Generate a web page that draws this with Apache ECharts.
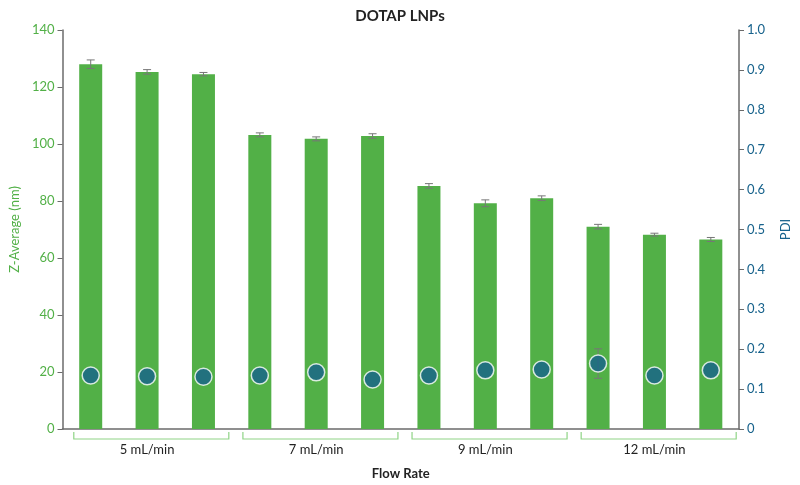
<!DOCTYPE html><html><head><meta charset="utf-8"><script src="https://cdn.jsdelivr.net/npm/echarts@6/dist/echarts.min.js"></script>
<style>body{margin:0}#c{width:800px;height:485px}</style></head><body><div id="c"></div><script>
const categories=['5a','5b','5c','7a','7b','7c','9a','9b','9c','12a','12b','12c'];
const groups=['5 mL/min','7 mL/min','9 mL/min','12 mL/min'];
const zavg=[128,125.3,124.5,103.2,101.8,102.8,85.3,79.2,81,71,68.2,66.5];
const zerr=[1.5,0.8,0.6,0.7,0.7,0.8,0.8,1.2,0.8,0.8,0.5,0.7];
const pdi=[0.134,0.132,0.131,0.134,0.142,0.124,0.134,0.147,0.149,0.164,0.134,0.147];
const pdiErr=[0,0,0,0,0,0,0,0,0,0.037,0,0];
const axisCol='#6b6b6b',green='#52b047',blue='#17628c',font='Lato';
const chart=echarts.init(document.getElementById('c'));
function errItem(params,api){
  const x=api.value(0),v=api.value(1),e=api.value(2);
  if(!e)return;
  const top=api.coord([x,v+e]),bot=api.coord([x,v-e]);
  return {type:'group',children:[
    {type:'line',shape:{x1:top[0],y1:top[1],x2:bot[0],y2:bot[1]},style:{stroke:'#777',lineWidth:1}},
    {type:'line',shape:{x1:top[0]-4,y1:top[1],x2:top[0]+4,y2:top[1]},style:{stroke:'#777',lineWidth:1}},
    {type:'line',shape:{x1:bot[0]-4,y1:bot[1],x2:bot[0]+4,y2:bot[1]},style:{stroke:'#777',lineWidth:1}}]};
}
chart.setOption({
  animation:false,
  title:{text:'DOTAP LNPs',left:'center',top:4,textStyle:{fontFamily:font,fontSize:15,fontWeight:'bold',color:'#222'}},
  grid:{left:61,right:58,top:30,bottom:53},
  xAxis:{type:'category',data:categories,axisLabel:{show:false},axisTick:{show:false},
    axisLine:{lineStyle:{color:axisCol,width:1.5}},name:'Flow Rate',nameLocation:'middle',nameGap:38,
    nameTextStyle:{fontFamily:font,fontSize:13,color:'#222',fontWeight:'bold'}},
  yAxis:[
    {type:'value',min:0,max:140,interval:20,name:'Z-Average (nm)',nameLocation:'middle',nameGap:40,
     nameTextStyle:{fontFamily:font,fontSize:13,color:green},
     axisLine:{show:true,lineStyle:{color:axisCol,width:1.5}},axisTick:{show:true,length:5,lineStyle:{color:axisCol}},
     axisLabel:{fontFamily:font,fontSize:13,color:green},splitLine:{show:false}},
    {type:'value',min:0,max:1,interval:0.1,name:'PDI',nameLocation:'middle',nameGap:40,
     nameTextStyle:{fontFamily:font,fontSize:13,color:blue},
     axisLine:{show:true,lineStyle:{color:axisCol,width:1.5}},axisTick:{show:true,length:5,lineStyle:{color:axisCol}},
     axisLabel:{fontFamily:font,fontSize:13,color:blue,formatter:v=>v===0?'0':v.toFixed(1)},splitLine:{show:false}}],
  series:[
    {type:'bar',data:zavg,barWidth:23,itemStyle:{color:green},z:1},
    {type:'custom',data:zavg.map((v,i)=>[i,v,zerr[i]]),renderItem:errItem,z:3},
    {type:'custom',yAxisIndex:1,data:pdi.map((v,i)=>[i,v,pdiErr[i]]),renderItem:errItem,z:4},
    {type:'scatter',yAxisIndex:1,data:pdi,symbolSize:17,itemStyle:{color:blue,borderColor:'#fff',borderWidth:1.5},z:5},
    {type:'custom',clip:false,silent:true,data:groups.map((g,i)=>[i*3+1,g]),
     renderItem:(params,api)=>{
       const c=api.value(0);const w=api.size([1,0])[0];
       const p=api.coord([c,0]);
       const x1=p[0]-1.3*w,x2=p[0]+1.45*w,y=p[1];
       return {type:'group',children:[
        {type:'polyline',shape:{points:[[x1,y+3],[x1,y+10],[x2,y+10],[x2,y+3]]},style:{stroke:'#8fd486',lineWidth:1.2,fill:null}},
        {type:'text',style:{text:groups[params.dataIndex],x:p[0],y:y+21,align:'center',verticalAlign:'middle',font:'13px '+font,fill:'#222'}}]};
     }}
  ]
});
</script></body></html>
